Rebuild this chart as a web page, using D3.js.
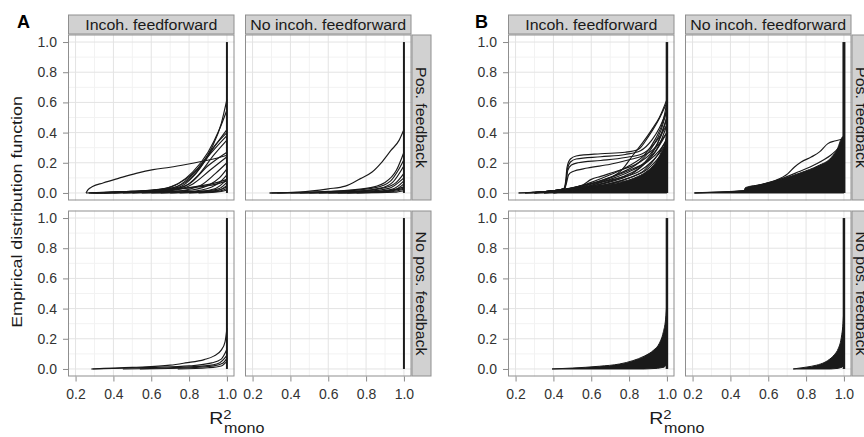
<!DOCTYPE html>
<html>
<head>
<meta charset="utf-8">
<script src="https://cdn.jsdelivr.net/npm/d3@7"></script>
<style>
  body { margin: 0; background: #fff; }
  svg { display: block; }
</style>
</head>
<body>
<div id="chart"></div>
<script>
// Tick values and facet labels
const xTicks = [0.2, 0.4, 0.6, 0.8, 1.0];
const yTicks = [0, 0.2, 0.4, 0.6, 0.8, 1.0];
const xMinor = [0.3, 0.5, 0.7, 0.9];
const yMinor = [0.1, 0.3, 0.5, 0.7, 0.9];
const colLabels = ["Incoh. feedforward", "No incoh. feedforward"];
const rowLabels = ["Pos. feedback", "No pos. feedback"];
const panelLetters = ["A", "B"];

// ECDF jump at R2 = 1 shared by every curve
const verticalEnd = [[1.0, 0], [1.0, 1.0]];

// Panel A curves ([R2, ECDF])
const curvesA_ffPos = [
  [[0.255,0],[0.265,0.02],[0.29,0.042],[0.345,0.066],[0.43,0.098],[0.52,0.13],[0.61,0.155],[0.7,0.17],[0.79,0.19],[0.87,0.21],[0.945,0.23],[1.0,0.25]],
  [[0.255,0],[0.35,0.004],[0.5,0.01],[0.65,0.018],[0.75,0.028],[0.85,0.045],[0.95,0.07],[1.0,0.09]],
  [[0.27,0],[0.45,0.008],[0.6,0.018],[0.7,0.04],[0.78,0.09],[0.86,0.18],[0.92,0.3],[0.97,0.46],[1.0,0.62]],
  [[0.28,0],[0.5,0.01],[0.65,0.025],[0.74,0.06],[0.82,0.14],[0.9,0.27],[0.96,0.42],[1.0,0.55]],
  [[0.29,0],[0.55,0.012],[0.7,0.03],[0.78,0.07],[0.86,0.17],[0.93,0.3],[1.0,0.42]],
  [[0.3,0],[0.6,0.015],[0.72,0.035],[0.8,0.1],[0.87,0.2],[0.94,0.32],[1.0,0.4]],
  [[0.31,0],[0.6,0.012],[0.75,0.04],[0.83,0.12],[0.9,0.24],[1.0,0.38]],
  [[0.33,0],[0.62,0.01],[0.77,0.04],[0.85,0.12],[0.93,0.25],[1.0,0.35]],
  [[0.35,0],[0.65,0.01],[0.8,0.06],[0.9,0.18],[1.0,0.27]],
  [[0.4,0],[0.7,0.015],[0.82,0.06],[0.91,0.15],[1.0,0.24]],
  [[0.45,0],[0.72,0.01],[0.86,0.05],[0.94,0.13],[1.0,0.2]],
  [[0.5,0],[0.78,0.015],[0.9,0.05],[0.96,0.1],[1.0,0.16]],
  [[0.55,0],[0.8,0.01],[0.92,0.04],[0.97,0.08],[1.0,0.12]],
  [[0.6,0],[0.85,0.01],[0.94,0.03],[1.0,0.09]],
  [[0.65,0],[0.88,0.012],[0.96,0.03],[1.0,0.07]],
  [[0.7,0],[0.9,0.01],[0.97,0.025],[1.0,0.05]],
  [[0.75,0],[0.92,0.008],[1.0,0.04]],
  [[0.8,0],[0.95,0.01],[1.0,0.03]],
  [[0.27,0],[0.5,0.008],[0.7,0.02],[0.85,0.04],[0.95,0.06],[1.0,0.08]],
  [[0.85,0],[0.97,0.01],[1.0,0.02]]
];
const curvesA_noffPos = [
  [[0.29,0],[0.45,0.006],[0.6,0.027],[0.69,0.045],[0.77,0.095],[0.83,0.137],[0.88,0.2],[0.93,0.28],[0.975,0.35],[1.0,0.42]],
  [[0.29,0],[0.6,0.01],[0.8,0.03],[0.9,0.07],[0.96,0.15],[1.0,0.27]],
  [[0.3,0],[0.65,0.01],[0.85,0.035],[0.93,0.08],[0.97,0.15],[1.0,0.22]],
  [[0.33,0],[0.7,0.008],[0.87,0.03],[0.94,0.07],[1.0,0.18]],
  [[0.4,0],[0.75,0.01],[0.9,0.035],[0.96,0.07],[1.0,0.13]],
  [[0.45,0],[0.8,0.01],[0.92,0.03],[1.0,0.1]],
  [[0.5,0],[0.82,0.008],[0.94,0.025],[1.0,0.08]],
  [[0.55,0],[0.85,0.006],[0.95,0.02],[1.0,0.06]],
  [[0.6,0],[0.88,0.005],[1.0,0.04]],
  [[0.65,0],[0.9,0.01],[1.0,0.03]],
  [[0.7,0],[0.93,0.008],[1.0,0.025]],
  [[0.75,0],[0.95,0.005],[1.0,0.015]]
];
const curvesA_ffNoPos = [
  [[0.283,0],[0.5,0.01],[0.7,0.025],[0.78,0.04],[0.88,0.062],[0.93,0.085],[0.97,0.125],[0.99,0.18],[1.0,0.27]],
  [[0.29,0],[0.6,0.01],[0.8,0.02],[0.92,0.04],[0.97,0.065],[1.0,0.13]],
  [[0.45,0],[0.7,0.008],[0.88,0.02],[0.96,0.04],[1.0,0.09]],
  [[0.54,0],[0.8,0.008],[0.93,0.02],[0.98,0.04],[1.0,0.07]],
  [[0.74,0],[0.9,0.008],[0.97,0.02],[1.0,0.05]]
];
const curvesA_noffNoPos = [];

// Panel B: the dense mass of curves as a band, plus the curves that stand out
const bandUpperB_ffPos = [[0.216,0],[0.3,0.005],[0.38,0.012],[0.46,0.025],[0.55,0.035],[0.65,0.05],[0.75,0.07],[0.83,0.1],[0.89,0.14],[0.94,0.2],[0.97,0.27],[0.99,0.33],[1.0,0.4]];
const bandLowerB_ffPos = [[0.216,0],[1.0,0]];
const curvesB_ffPos = [
  [[0.3,0.002],[0.4,0.015],[0.455,0.03],[0.465,0.08],[0.472,0.17],[0.49,0.225],[0.52,0.245],[0.65,0.26],[0.78,0.27],[0.85,0.29],[0.9,0.37],[0.95,0.47],[1.0,0.6]],
  [[0.3,0.002],[0.4,0.015],[0.457,0.03],[0.467,0.08],[0.474,0.16],[0.49,0.205],[0.52,0.225],[0.65,0.24],[0.78,0.255],[0.86,0.28],[0.92,0.35],[0.96,0.43],[1.0,0.55]],
  [[0.3,0.002],[0.4,0.015],[0.459,0.03],[0.468,0.08],[0.476,0.15],[0.495,0.185],[0.53,0.2],[0.65,0.215],[0.78,0.235],[0.87,0.26],[0.93,0.32],[1.0,0.45]],
  [[0.3,0.002],[0.4,0.015],[0.46,0.03],[0.47,0.07],[0.48,0.12],[0.5,0.14],[0.58,0.165],[0.7,0.19],[0.8,0.22],[0.88,0.25],[0.94,0.3],[1.0,0.4]],
  [[0.25,0],[0.5,0.03],[0.6,0.07],[0.7,0.12],[0.8,0.18],[0.88,0.25],[0.94,0.36],[0.98,0.48],[1.0,0.6]],
  [[0.25,0],[0.55,0.04],[0.65,0.08],[0.75,0.13],[0.85,0.2],[0.92,0.3],[0.97,0.42],[1.0,0.55]],
  [[0.3,0],[0.6,0.05],[0.7,0.09],[0.8,0.14],[0.88,0.2],[0.94,0.3],[1.0,0.5]],
  [[0.3,0],[0.6,0.045],[0.72,0.08],[0.82,0.13],[0.9,0.22],[0.96,0.32],[1.0,0.45]],
  [[0.35,0],[0.62,0.05],[0.75,0.1],[0.85,0.16],[0.92,0.24],[1.0,0.4]],
  [[0.4,0],[0.65,0.05],[0.78,0.09],[0.88,0.15],[0.95,0.25],[1.0,0.36]],
  [[0.4,0],[0.7,0.06],[0.8,0.1],[0.9,0.16],[1.0,0.3]],
  [[0.4,0.01],[0.6,0.06],[0.75,0.1],[0.85,0.14],[0.93,0.22],[1.0,0.33]],
  [[0.45,0.02],[0.62,0.07],[0.72,0.11],[0.82,0.16],[0.9,0.21],[0.96,0.28],[1.0,0.35]],
  [[0.35,0.005],[0.55,0.05],[0.6,0.09],[0.65,0.11],[0.75,0.15],[0.85,0.2],[0.92,0.27],[0.97,0.38],[1.0,0.5]],
  [[0.35,0],[0.6,0.05],[0.7,0.1],[0.76,0.15],[0.82,0.25],[0.87,0.33],[0.92,0.42],[0.96,0.5],[1.0,0.62]]
];
const bandUpperB_noffPos = [[0.21,0],[0.3,0.004],[0.4,0.009],[0.47,0.014],[0.48,0.036],[0.563,0.055],[0.669,0.09],[0.774,0.135],[0.863,0.18],[0.933,0.235],[0.968,0.3],[0.986,0.36],[1.0,0.38]];
const bandLowerB_noffPos = [[0.21,0],[1.0,0]];
const curvesB_noffPos = [
  [[0.21,0],[0.47,0.015],[0.55,0.05],[0.633,0.08],[0.704,0.128],[0.739,0.172],[0.774,0.205],[0.827,0.238],[0.871,0.272],[0.915,0.327],[0.95,0.344],[0.986,0.354],[1.0,0.36]],
  [[0.5,0.04],[0.65,0.085],[0.76,0.14],[0.85,0.19],[0.93,0.25],[1.0,0.33]]
];
const bandUpperB_ffNoPos = [[0.393,0],[0.5,0.006],[0.643,0.018],[0.75,0.033],[0.82,0.055],[0.88,0.085],[0.93,0.125],[0.96,0.17],[0.98,0.24],[0.993,0.33],[1.0,0.44]];
const bandLowerB_ffNoPos = [[0.393,0],[0.88,0],[0.95,0.004],[0.985,0.012],[1.0,0.03]];
const curvesB_ffNoPos = [];
const bandUpperB_noffNoPos = [[0.732,0],[0.8,0.012],[0.855,0.025],[0.9,0.045],[0.926,0.066],[0.95,0.095],[0.97,0.135],[0.985,0.2],[0.995,0.3],[1.0,0.4]];
const bandLowerB_noffNoPos = [[0.732,0],[0.93,0],[0.97,0.004],[0.99,0.012],[1.0,0.03]];
const curvesB_noffNoPos = [];

// Layout
const width = 864, height = 437;
const origins = [{ x: 68, y: 34.5 }, { x: 508, y: 34.5 }];
const pw = 166.5, ph = 166, colGap = 10.5, rowGap = 10, stripH = 20, stripW = 20;
const lineColor = "#1a1a1a";
const font = "'Liberation Sans', Arial, Helvetica, sans-serif";

const facets = [
  { p: 0, r: 0, c: 0, curves: curvesA_ffPos, upper: null, lower: null, vw: 2 },
  { p: 0, r: 0, c: 1, curves: curvesA_noffPos, upper: null, lower: null, vw: 2 },
  { p: 0, r: 1, c: 0, curves: curvesA_ffNoPos, upper: null, lower: null, vw: 2 },
  { p: 0, r: 1, c: 1, curves: curvesA_noffNoPos, upper: null, lower: null, vw: 2 },
  { p: 1, r: 0, c: 0, curves: curvesB_ffPos, upper: bandUpperB_ffPos, lower: bandLowerB_ffPos, vw: 2.5 },
  { p: 1, r: 0, c: 1, curves: curvesB_noffPos, upper: bandUpperB_noffPos, lower: bandLowerB_noffPos, vw: 3 },
  { p: 1, r: 1, c: 0, curves: curvesB_ffNoPos, upper: bandUpperB_ffNoPos, lower: bandLowerB_ffNoPos, vw: 2.5 },
  { p: 1, r: 1, c: 1, curves: curvesB_noffNoPos, upper: bandUpperB_noffNoPos, lower: bandLowerB_noffNoPos, vw: 2.5 }
];

const x = d3.scaleLinear().domain([0.16, 1.04]).range([0, pw]);
const y = d3.scaleLinear().domain([-0.05, 1.05]).range([ph, 0]);

const smooth = d3.line().x(d => x(d[0])).y(d => y(d[1])).curve(d3.curveMonotoneX);
const straight = d3.line().x(d => x(d[0])).y(d => y(d[1]));

const svg = d3.select("#chart").append("svg")
  .attr("width", width)
  .attr("height", height)
  .style("font-family", font);

svg.append("rect").attr("width", width).attr("height", height).attr("fill", "#fff");

// stretched text helper (the reference font is wider than Arial)
function label(g, txt, tx, ty, opts) {
  const o = Object.assign({ size: 14, sx: 1.1, rot: 0, anchor: "middle", weight: "normal", fill: "#1a1a1a", baseline: "central" }, opts);
  return g.append("text")
    .attr("transform", `translate(${tx},${ty}) rotate(${o.rot}) scale(${o.sx},1)`)
    .attr("text-anchor", o.anchor)
    .attr("dominant-baseline", o.baseline)
    .attr("font-size", o.size)
    .attr("font-weight", o.weight)
    .attr("fill", o.fill)
    .text(txt);
}

facets.forEach(f => {
  const ox = origins[f.p].x + f.c * (pw + colGap);
  const oy = origins[f.p].y + f.r * (ph + rowGap);
  const g = svg.append("g").attr("transform", `translate(${ox},${oy})`);

  // panel background and grid
  g.append("rect").attr("width", pw).attr("height", ph).attr("fill", "#fff");
  g.selectAll(".xminor").data(xMinor).join("line")
    .attr("x1", d => x(d)).attr("x2", d => x(d)).attr("y1", 0).attr("y2", ph)
    .attr("stroke", "#f2f2f2").attr("stroke-width", 1);
  g.selectAll(".yminor").data(yMinor).join("line")
    .attr("x1", 0).attr("x2", pw).attr("y1", d => y(d)).attr("y2", d => y(d))
    .attr("stroke", "#f2f2f2").attr("stroke-width", 1);
  g.selectAll(".xmajor").data(xTicks).join("line")
    .attr("x1", d => x(d)).attr("x2", d => x(d)).attr("y1", 0).attr("y2", ph)
    .attr("stroke", "#e3e3e3").attr("stroke-width", 1);
  g.selectAll(".ymajor").data(yTicks).join("line")
    .attr("x1", 0).attr("x2", pw).attr("y1", d => y(d)).attr("y2", d => y(d))
    .attr("stroke", "#e3e3e3").attr("stroke-width", 1);

  // dense band of curves
  if (f.upper) {
    const back = f.lower.slice().reverse().map(d => `L${x(d[0])},${y(d[1])}`).join("");
    g.append("path")
      .attr("d", smooth(f.upper) + back + "Z")
      .attr("fill", lineColor)
      .attr("stroke", lineColor)
      .attr("stroke-width", 1);
  }

  // individual ECDF curves
  g.selectAll(".curve").data(f.curves).join("path")
    .attr("d", smooth)
    .attr("fill", "none")
    .attr("stroke", lineColor)
    .attr("stroke-width", 1.15);

  g.append("path")
    .attr("d", straight(verticalEnd))
    .attr("fill", "none")
    .attr("stroke", lineColor)
    .attr("stroke-width", f.vw);

  // panel border
  g.append("rect").attr("x", 0.5).attr("y", 0.5).attr("width", pw - 1).attr("height", ph - 1)
    .attr("fill", "none").attr("stroke", "#8f8f8f").attr("stroke-width", 1);

  // column strips
  if (f.r === 0) {
    g.append("rect").attr("x", 0.5).attr("y", -stripH + 0.5).attr("width", pw - 1).attr("height", stripH - 1)
      .attr("fill", "#d1d1d1").attr("stroke", "#8f8f8f");
    label(g, colLabels[f.c], pw / 2, -stripH / 2, { size: 14.5, sx: 1.1 });
  }
  // row strips
  if (f.c === 1) {
    g.append("rect").attr("x", pw + 0.5).attr("y", 0.5).attr("width", stripW - 1).attr("height", ph - 1)
      .attr("fill", "#d1d1d1").attr("stroke", "#8f8f8f");
    label(g, rowLabels[f.r], pw + stripW / 2, ph / 2, { size: 14.5, sx: 1.1, rot: 90 });
  }

  // axes
  if (f.c === 0) {
    const ay = g.append("g").call(d3.axisLeft(y).tickValues(yTicks).tickFormat(d3.format(".1f")).tickSize(5).tickPadding(6));
    ay.select(".domain").remove();
    ay.selectAll("line").attr("stroke", "#8a8a8a");
    ay.selectAll("text").attr("font-size", 14).attr("font-family", font).attr("fill", "#333");
  }
  if (f.r === 1) {
    const ax = g.append("g").attr("transform", `translate(0,${ph})`)
      .call(d3.axisBottom(x).tickValues(xTicks).tickFormat(d3.format(".1f")).tickSize(5).tickPadding(8));
    ax.select(".domain").remove();
    ax.selectAll("line").attr("stroke", "#8a8a8a");
    ax.selectAll("text").attr("font-size", 14).attr("font-family", font).attr("fill", "#333");
  }
});

// panel letters and axis titles
origins.forEach((o, i) => {
  const cx = o.x + (2 * pw + colGap) / 2;
  label(svg, panelLetters[i], i === 0 ? 17 : 475, 28, { size: 18, sx: 1.0, anchor: "start", weight: "bold", baseline: "alphabetic", fill: "#000" });
  // R squared with "mono" subscript stacked under the superscript
  const t = svg.append("text")
    .attr("transform", `translate(${cx - 30.5},424) scale(1.15,1)`)
    .attr("fill", "#1a1a1a")
    .attr("font-size", 17);
  t.append("tspan").text("R");
  t.append("tspan").attr("font-size", 13).attr("dy", -5).text("2");
  t.append("tspan").attr("font-size", 14).attr("dx", -6.6).attr("dy", 13.5).text("mono");
});
label(svg, "Empirical distribution function", 21.5, 212, { size: 15.5, sx: 1.15, rot: -90, baseline: "alphabetic" });
</script>
</body>
</html>
